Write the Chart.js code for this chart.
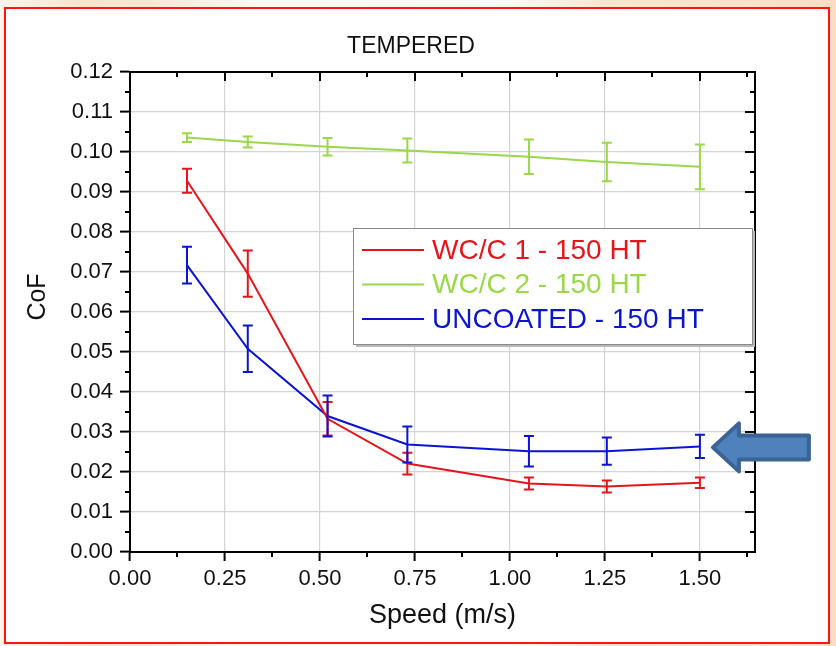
<!DOCTYPE html>
<html>
<head>
<meta charset="utf-8">
<title>TEMPERED</title>
<script src="https://cdn.jsdelivr.net/npm/chart.js@4.4.1/dist/chart.umd.min.js"></script>
<style>
  html, body { margin: 0; padding: 0; }
  body {
    width: 836px; height: 646px; position: relative; overflow: hidden;
    background: linear-gradient(to right, #fff3ea 0%, #fde2d0 10%, #fde6d6 18%, #fff7f2 30%, #fffaf7 60%, #fde4d2 72%, #fddcc6 100%);
  }
  #frame {
    position: absolute; left: 4px; top: 7px; width: 822px; height: 633px;
    border: 2px solid #ff1414; background: #fff;
  }
  #chart { position: absolute; left: 0; top: 0; }
</style>
</head>
<body>
<div id="frame"></div>
<canvas id="chart" width="836" height="646"></canvas>
<script>
// sliding speed (m/s), shared by all three series
const speed = [0.15, 0.31, 0.52, 0.73, 1.05, 1.255, 1.5];

const wc1 = [0.0928, 0.0696, 0.0333, 0.0221, 0.0171, 0.0164, 0.0173];
const wc1Err = [0.0030, 0.0058, 0.0042, 0.0027, 0.0015, 0.0015, 0.0013];

const wc2 = [0.1036, 0.1025, 0.1013, 0.1004, 0.0988, 0.0975, 0.0963];
const wc2Err = [0.0011, 0.0014, 0.0022, 0.0030, 0.0043, 0.0048, 0.0056];

const uncoated = [0.0717, 0.0508, 0.0340, 0.0269, 0.0252, 0.0252, 0.0264];
const uncoatedErr = [0.0046, 0.0058, 0.0051, 0.0045, 0.0038, 0.0034, 0.0029];

const seriesLabels = ['WC/C 1 - 150 HT', 'WC/C 2 - 150 HT', 'UNCOATED - 150 HT'];
const seriesColors = ['#e8141c', '#9ad84a', '#0b14d2'];
const FONT = "'Liberation Sans', Arial, sans-serif";

function points(ys) {
  return speed.map((x, i) => ({ x, y: ys[i] }));
}

const errors = [wc1Err, wc2Err, uncoatedErr];

// vertical error bars with caps, drawn from the data through the scales
const errorBars = {
  id: 'errorBars',
  afterDatasetsDraw(chart) {
    const { ctx, scales: { x, y } } = chart;
    chart.data.datasets.forEach((ds, di) => {
      ctx.save();
      ctx.strokeStyle = ds.borderColor;
      ctx.lineWidth = 2;
      ds.data.forEach((p, i) => {
        const e = errors[di][i];
        const px = x.getPixelForValue(p.x);
        const top = y.getPixelForValue(p.y + e);
        const bot = y.getPixelForValue(p.y - e);
        ctx.beginPath();
        ctx.moveTo(px, top); ctx.lineTo(px, bot);
        ctx.moveTo(px - 5, top); ctx.lineTo(px + 5, top);
        ctx.moveTo(px - 5, bot); ctx.lineTo(px + 5, bot);
        ctx.stroke();
      });
      ctx.restore();
    });
  }
};

// closed frame with minor ticks and mirrored ticks on top/right
const frame = {
  id: 'frame',
  afterDatasetsDraw(chart) {
    const { ctx, chartArea: a, scales: { x, y } } = chart;
    ctx.save();
    ctx.strokeStyle = '#000';
    ctx.lineWidth = 2;
    ctx.strokeRect(a.left, a.top, a.right - a.left, a.bottom - a.top);
    ctx.beginPath();
    for (let v = 0; v <= x.max + 1e-9; v += 0.125) {
      const px = Math.round(x.getPixelForValue(v));
      const major = Math.abs(v / 0.25 - Math.round(v / 0.25)) < 1e-6;
      if (!major) { ctx.moveTo(px, a.bottom); ctx.lineTo(px, a.bottom + 5); }
      ctx.moveTo(px, a.top); ctx.lineTo(px, a.top + (major ? 9 : 5));
    }
    for (let k = 0; k <= 24; k++) {
      const v = k * 0.005;
      const py = Math.round(y.getPixelForValue(v));
      const major = k % 2 === 0;
      if (!major) { ctx.moveTo(a.left, py); ctx.lineTo(a.left - 5, py); }
      ctx.moveTo(a.right, py); ctx.lineTo(a.right - (major ? 10 : 5), py);
    }
    ctx.stroke();
    ctx.restore();
  }
};

// title, y axis label, inset legend and the pointer arrow
const overlay = {
  id: 'overlay',
  afterDraw(chart) {
    const { ctx, scales: { x, y } } = chart;
    ctx.save();

    ctx.fillStyle = '#111';
    ctx.font = '23px ' + FONT;
    ctx.textAlign = 'center';
    ctx.textBaseline = 'middle';
    ctx.fillText('TEMPERED', 411, 47);

    ctx.save();
    ctx.translate(38, 297);
    ctx.rotate(-Math.PI / 2);
    ctx.font = '25px ' + FONT;
    ctx.fillText('CoF', 0, 0);
    ctx.restore();

    // legend box
    const lx = 353, ly = 228, lw = 399, lh = 116;
    ctx.fillStyle = '#b8b8b8';
    ctx.fillRect(lx + 3, ly + 3, lw, lh);
    ctx.fillStyle = '#fff';
    ctx.fillRect(lx, ly, lw, lh);
    ctx.strokeStyle = '#8a8a8a';
    ctx.lineWidth = 1;
    ctx.strokeRect(lx + 0.5, ly + 0.5, lw, lh);
    ctx.font = '28px ' + FONT;
    ctx.textAlign = 'left';
    chart.data.datasets.forEach((ds, i) => {
      const ry = 250 + i * 34.5;
      ctx.strokeStyle = ds.borderColor;
      ctx.lineWidth = 2;
      ctx.beginPath();
      ctx.moveTo(362, ry); ctx.lineTo(424, ry);
      ctx.stroke();
      ctx.fillStyle = ds.borderColor;
      ctx.fillText(ds.label, 432, ry + 1);
    });

    // block arrow pointing at the last UNCOATED point
    const last = speed.length - 1;
    const px = x.getPixelForValue(speed[last]);
    const py = y.getPixelForValue(uncoated[last]) + 1;
    const tip = px + 13;
    ctx.beginPath();
    ctx.moveTo(tip, py);
    ctx.lineTo(tip + 26, py - 24);
    ctx.lineTo(tip + 26, py - 12);
    ctx.lineTo(tip + 96, py - 12);
    ctx.lineTo(tip + 96, py + 12);
    ctx.lineTo(tip + 26, py + 12);
    ctx.lineTo(tip + 26, py + 24);
    ctx.closePath();
    ctx.fillStyle = '#4f81bd';
    ctx.fill();
    ctx.lineJoin = 'round';
    ctx.lineWidth = 4;
    ctx.strokeStyle = '#3b6494';
    ctx.stroke();

    ctx.restore();
  }
};

new Chart(document.getElementById('chart'), {
  type: 'line',
  data: {
    datasets: seriesLabels.map((label, i) => ({
      label,
      data: points([wc1, wc2, uncoated][i]),
      borderColor: seriesColors[i],
      backgroundColor: seriesColors[i],
      borderWidth: 2,
      pointRadius: 0,
      tension: 0
    }))
  },
  options: {
    responsive: false,
    animation: false,
    devicePixelRatio: 1,
    layout: { padding: { left: 8, right: 81, top: 72, bottom: 10 } },
    plugins: {
      legend: { display: false },
      title: { display: false },
      tooltip: { enabled: false }
    },
    scales: {
      x: {
        type: 'linear',
        min: 0,
        max: 1.645,
        afterFit: (s) => { s.height = 84; },
        ticks: {
          stepSize: 0.25,
          includeBounds: false,
          padding: 5,
          color: '#111',
          font: { family: FONT, size: 22 },
          callback: (v) => v.toFixed(2)
        },
        grid: { color: '#d4d4d4', lineWidth: 1.2, tickColor: '#000', tickWidth: 2, tickLength: 9 },
        border: { color: '#000', width: 2 },
        title: {
          display: true,
          text: 'Speed (m/s)',
          color: '#111',
          font: { family: FONT, size: 27 },
          padding: { top: 0, bottom: 4 }
        }
      },
      y: {
        min: 0,
        max: 0.12,
        afterFit: (s) => { s.width = 122; },
        ticks: {
          stepSize: 0.01,
          padding: 7,
          color: '#111',
          font: { family: FONT, size: 22 },
          callback: (v) => v.toFixed(2)
        },
        grid: { color: '#d4d4d4', lineWidth: 1.2, tickColor: '#000', tickWidth: 2, tickLength: 10 },
        border: { color: '#000', width: 2 }
      }
    }
  },
  plugins: [errorBars, frame, overlay]
});
</script>
</body>
</html>
